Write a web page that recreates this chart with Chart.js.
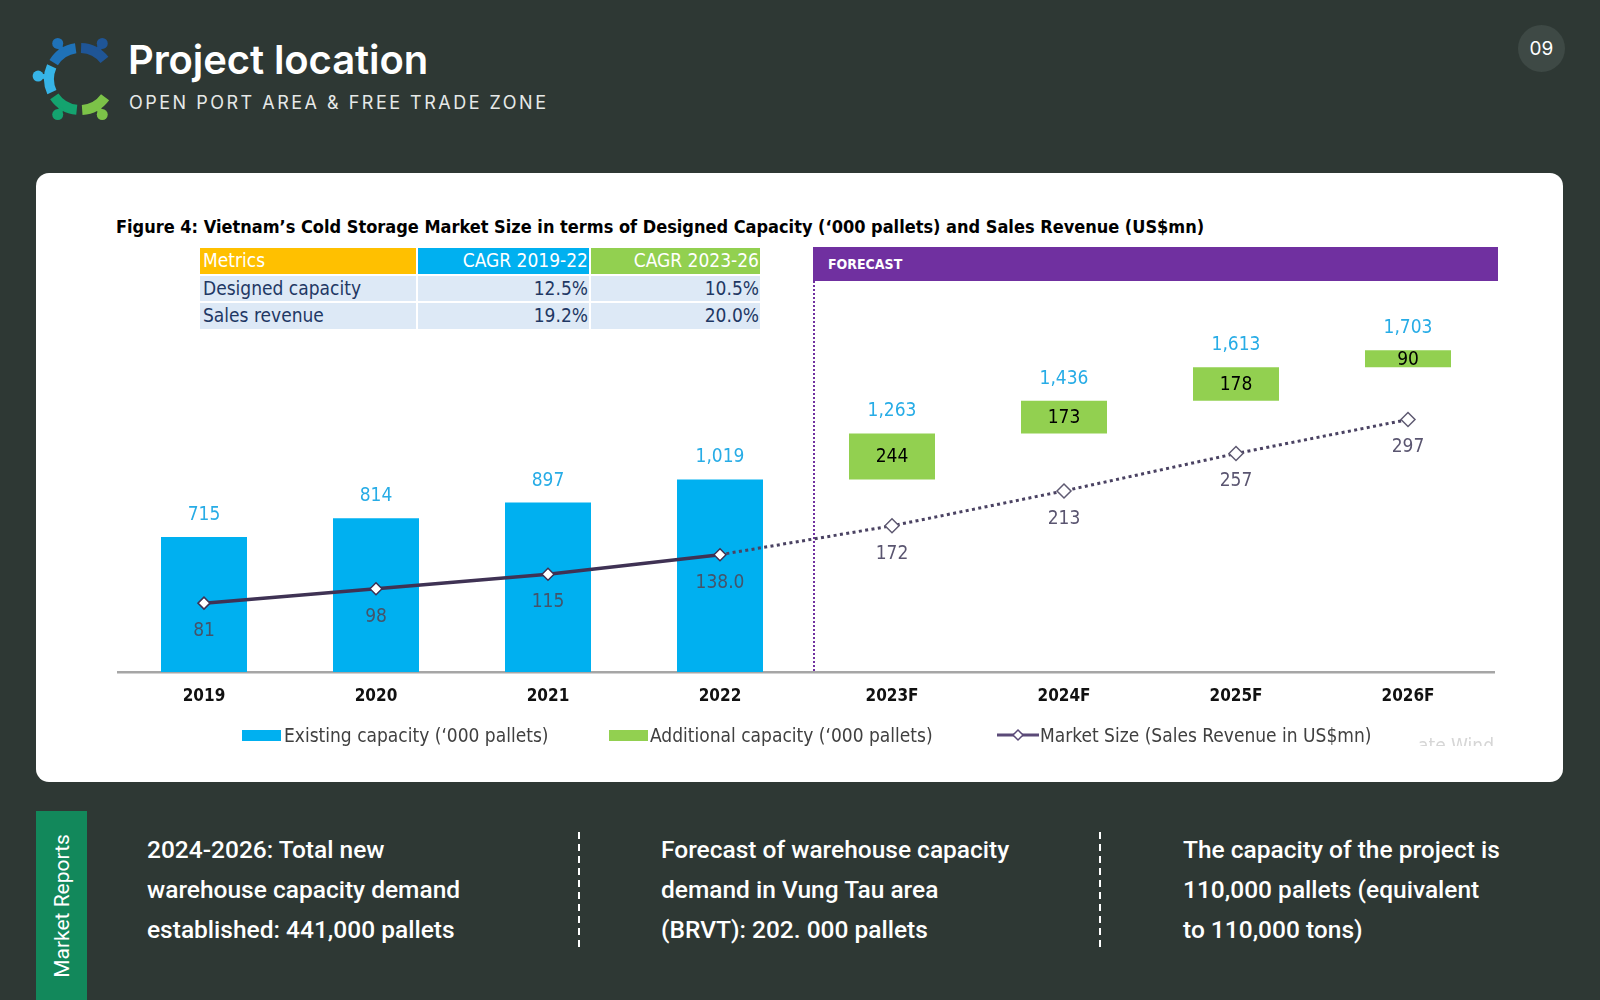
<!DOCTYPE html>
<html>
<head>
<meta charset="utf-8">
<script src="https://cdn.jsdelivr.net/npm/chart.js@4.4.1/dist/chart.umd.min.js"></script>
<style>
  html, body { margin:0; padding:0; }
  body { width:1600px; height:1000px; background:#2e3834; position:relative; overflow:hidden; font-family: Inter, Roboto, sans-serif; }
  .abs { position:absolute; }
  #title { left:128px; top:36px; font-size:40px; font-weight:600; color:#fff; letter-spacing:-0.1px; line-height:48px; white-space:nowrap; }
  #subtitle { left:129px; top:92px; font-size:18px; font-weight:400; color:#e6e9e8; letter-spacing:2.5px; line-height:22px; white-space:nowrap; }
  #pagenum { left:1518px; top:25px; width:47px; height:47px; border-radius:50%; background:#3e4945; color:#fff; font-size:19px; line-height:47px; text-align:center; }
  #card { left:36px; top:173px; width:1527px; height:609px; background:#fff; border-radius:13px; }
  .cond { font-family:'DejaVu Sans Condensed','DejaVu Sans',sans-serif; }
  #figtitle { left:116px; top:216px; font-size:18px; font-weight:bold; color:#000; white-space:nowrap; line-height:22px; }
  #metrics { left:198px; top:246px; width:564px; table-layout:fixed; border-collapse:separate; border-spacing:2px; font-size:19px; }
  #metrics td { box-sizing:border-box; height:25.5px; padding:0 1px 0 3px; line-height:25px; white-space:nowrap; overflow:hidden; }
  #metrics tr.h td { color:#fff; }
  #metrics tr.b td { background:#dde9f6; color:#1f3864; }
  #forecast { left:813px; top:247px; width:685px; height:34px; background:#7030a0; color:#fff; font-size:14px; font-weight:bold; line-height:34px; box-sizing:border-box; padding-left:15px; }
  #chartbox { left:36px; top:173px; width:1527px; height:609px; }
  .leg { top:723px; font-size:19px; color:#404040; line-height:24px; white-space:nowrap; }
  .sw { width:39px; height:11px; top:730px; }
  #watermark { left:1418px; top:733px; width:78px; height:13px; overflow:hidden; color:#d6d6d6; font-size:19px; line-height:24px; white-space:nowrap; }
  #tab { left:36px; top:811px; width:51px; height:189px; background:#12885b; }
  #tabtext { left:62px; top:906px; transform:translate(-50%,-50%) rotate(-90deg); color:#fff; font-size:21px; font-family:Roboto, sans-serif; white-space:nowrap; }
  .note { top:830px; font-size:24.5px; line-height:40px; color:#fff; font-family:Roboto, sans-serif; font-weight:500; white-space:nowrap; }
  .sep { top:832px; width:2px; height:118px; background:repeating-linear-gradient(to bottom, #fff 0 7px, transparent 7px 12px); }
</style>
</head>
<body>
<svg class="abs" style="left:0;top:0" width="140" height="140" viewBox="0 0 140 140">
  <g fill="none" stroke-width="10" stroke-linecap="butt">
    <path id="s1" stroke="#1f5596"/>
    <path id="s2" stroke="#1f72b8"/>
    <path id="s3" stroke="#36b4e7"/>
    <path id="s4" stroke="#14a36f"/>
    <path id="s5" stroke="#7cc348"/>
  </g>
  <g id="heads"></g>
</svg>

<div id="title" class="abs">Project location</div>
<div id="subtitle" class="abs">OPEN PORT AREA &amp; FREE TRADE ZONE</div>
<div id="pagenum" class="abs">09</div>

<div id="card" class="abs"></div>
<div id="figtitle" class="abs cond">Figure 4: Vietnam’s Cold Storage Market Size in terms of Designed Capacity (‘000 pallets) and Sales Revenue (US$mn)</div>

<table id="metrics" class="abs cond">
  <colgroup><col style="width:216px"><col style="width:171px"><col style="width:169px"></colgroup>
  <tr class="h">
    <td style="background:#ffc000;text-align:left">Metrics</td>
    <td style="background:#00b0f0;text-align:right">CAGR 2019-22</td>
    <td style="background:#92d050;text-align:right">CAGR 2023-26</td>
  </tr>
  <tr class="b"><td>Designed capacity</td><td style="text-align:right">12.5%</td><td style="text-align:right">10.5%</td></tr>
  <tr class="b"><td>Sales revenue</td><td style="text-align:right">19.2%</td><td style="text-align:right">20.0%</td></tr>
</table>

<div id="forecast" class="abs cond">FORECAST</div>

<div id="chartbox" class="abs"><canvas id="c" width="1527" height="609"></canvas></div>

<div class="abs sw" style="left:242px;background:#00b0f0"></div>
<div class="abs leg cond" style="left:284px">Existing capacity (‘000 pallets)</div>
<div class="abs sw" style="left:609px;background:#92d050"></div>
<div class="abs leg cond" style="left:650px">Additional capacity (‘000 pallets)</div>
<svg class="abs" style="left:995px;top:726px" width="46" height="20">
  <line x1="2" y1="9" x2="44" y2="9" stroke="#5b4a78" stroke-width="3"/>
  <polygon points="23,4 28,9 23,14 18,9" fill="#fff" stroke="#5b4a78" stroke-width="1.5"/>
</svg>
<div class="abs leg cond" style="left:1040px">Market Size (Sales Revenue in US$mn)</div>
<div id="watermark" class="abs cond">ate Wind</div>

<div id="tab" class="abs"></div>
<div id="tabtext" class="abs">Market Reports</div>
<div class="abs note" style="left:147px">2024-2026: Total new<br>warehouse capacity demand<br>established: 441,000 pallets</div>
<div class="abs sep" style="left:578px"></div>
<div class="abs note" style="left:661px">Forecast of warehouse capacity<br>demand in Vung Tau area<br>(BRVT): 202. 000 pallets</div>
<div class="abs sep" style="left:1099px"></div>
<div class="abs note" style="left:1183px">The capacity of the project is<br>110,000 pallets (equivalent<br>to 110,000 tons)</div>

<script>
// ---------- logo ----------
(function(){
  const cx = 80, cy = 79, r = 31;
  const segs = [
    ['s1', -88, -38, -58, '#1f5596'],
    ['s2', -148, -98, -122, '#1f72b8'],
    ['s3', -205, -156, -176, '#36b4e7'],
    ['s4', 96, 146, 122, '#14a36f'],
    ['s5', 36, 86, 58, '#7cc348']
  ];
  const rad = d => d * Math.PI / 180;
  const heads = document.getElementById('heads');
  segs.forEach(([id, a0, a1, ah, col]) => {
    const x0 = cx + r*Math.cos(rad(a0)), y0 = cy + r*Math.sin(rad(a0));
    const x1 = cx + r*Math.cos(rad(a1)), y1 = cy + r*Math.sin(rad(a1));
    document.getElementById(id).setAttribute('d', `M${x0},${y0} A${r},${r} 0 0 1 ${x1},${y1}`);
    const hx = cx + (r+11)*Math.cos(rad(ah)), hy = cy + (r+11)*Math.sin(rad(ah));
    const sx = cx + (r+3)*Math.cos(rad(ah)), sy = cy + (r+3)*Math.sin(rad(ah));
    heads.insertAdjacentHTML('beforeend',
      `<line x1="${sx}" y1="${sy}" x2="${hx}" y2="${hy}" stroke="${col}" stroke-width="5"/>` +
      `<circle cx="${hx}" cy="${hy}" r="5.5" fill="${col}"/>`);
  });
})();

// ---------- data ----------
const categories = ['2019', '2020', '2021', '2022', '2023F', '2024F', '2025F', '2026F'];
const existingCapacity = [715, 814, 897, 1019];            // '000 pallets, blue bars
const totalCapacity = [715, 814, 897, 1019, 1263, 1436, 1613, 1703];
const totalLabels = ['715', '814', '897', '1,019', '1,263', '1,436', '1,613', '1,703'];
const additionalCapacity = [244, 173, 178, 90];            // '000 pallets, green boxes (2023F-2026F)
const marketSize = [81, 98, 115, 138, 172, 213, 257, 297]; // US$mn
const marketLabels = ['81', '98', '115', '138.0', '172', '213', '257', '297'];
const forecastStart = 4;

// build dataset arrays from the named lists
const existingData = categories.map((c, i) => i < existingCapacity.length ? existingCapacity[i] : null);
const additionalData = categories.map((c, i) => i >= forecastStart ? [totalCapacity[i - 1], totalCapacity[i]] : null);

const FONT = "'DejaVu Sans Condensed', 'DejaVu Sans', sans-serif";

const overlayPlugin = {
  id: 'overlay',
  beforeDatasetsDraw(chart) {
    const ctx = chart.ctx, xs = chart.scales.x, area = chart.chartArea;
    const xd = (xs.getPixelForValue(forecastStart - 1) + xs.getPixelForValue(forecastStart)) / 2 + 8;
    ctx.save();
    ctx.strokeStyle = '#7030a0';
    ctx.lineWidth = 2;
    ctx.setLineDash([2, 2]);
    ctx.beginPath();
    ctx.moveTo(xd, 108);
    ctx.lineTo(xd, area.bottom);
    ctx.stroke();
    ctx.restore();
  },
  afterDatasetsDraw(chart) {
    const ctx = chart.ctx;
    const m0 = chart.getDatasetMeta(0), m1 = chart.getDatasetMeta(1), m2 = chart.getDatasetMeta(2);
    ctx.save();
    ctx.textAlign = 'center';
    ctx.textBaseline = 'middle';
    ctx.font = '19px ' + FONT;
    categories.forEach((c, i) => {
      let el, topY;
      if (i < forecastStart) {
        el = m0.data[i];
        topY = el.y;
      } else {
        el = m1.data[i];
        topY = Math.min(el.y, el.base);
        ctx.fillStyle = '#000';
        ctx.fillText(String(additionalCapacity[i - forecastStart]), el.x, (el.y + el.base) / 2 + 1);
      }
      ctx.fillStyle = '#27ace6';
      ctx.fillText(totalLabels[i], el.x, topY - 22);
      const p = m2.data[i];
      ctx.fillStyle = i < forecastStart ? '#44546a' : '#5a5570';
      ctx.fillText(marketLabels[i], p.x, p.y + 28);
    });
    ctx.restore();
  }
};

new Chart(document.getElementById('c'), {
  data: {
    labels: categories,
    datasets: [
      {
        type: 'bar', label: "Existing capacity ('000 pallets)", data: existingData,
        backgroundColor: '#00b0f0', yAxisID: 'y', grouped: false, order: 2,
        barPercentage: 0.5, categoryPercentage: 1
      },
      {
        type: 'bar', label: "Additional capacity ('000 pallets)", data: additionalData,
        backgroundColor: '#92d050', yAxisID: 'y', grouped: false, order: 1,
        barPercentage: 0.5, categoryPercentage: 1
      },
      {
        type: 'line', label: 'Market Size (Sales Revenue in US$mn)', data: marketSize,
        yAxisID: 'y2', order: 0,
        borderColor: '#3f3254', borderWidth: 3.5, tension: 0,
        segment: {
          borderDash: s => s.p0DataIndex >= forecastStart - 1 ? [3, 3.4] : undefined,
          borderColor: s => s.p0DataIndex >= forecastStart - 1 ? '#4a4262' : undefined,
          borderWidth: s => s.p0DataIndex >= forecastStart - 1 ? 3 : undefined
        },
        pointStyle: 'rectRot',
        pointRadius: ctx => ctx.dataIndex < forecastStart ? 6 : 7,
        pointBackgroundColor: '#fff',
        pointBorderColor: ctx => ctx.dataIndex < forecastStart ? '#3f3254' : '#5f5a72',
        pointBorderWidth: 1.5
      }
    ]
  },
  options: {
    responsive: false,
    animation: false,
    events: [],
    layout: { padding: { left: 82, right: 69, top: 159, bottom: 70 } },
    plugins: { legend: { display: false }, tooltip: { enabled: false } },
    scales: {
      x: {
        grid: { display: false, drawTicks: false },
        border: { display: true, color: '#a6a6a6', width: 2.5 },
        ticks: { color: '#111', font: { family: FONT, size: 17, weight: 'bold' }, padding: 14 },
        afterFit: s => { s.height = 40; }
      },
      y: { display: false, min: 0, max: 1800 },
      y2: { display: false, min: 0, max: 400, position: 'right' }
    }
  },
  plugins: [overlayPlugin]
});
</script>
</body>
</html>
